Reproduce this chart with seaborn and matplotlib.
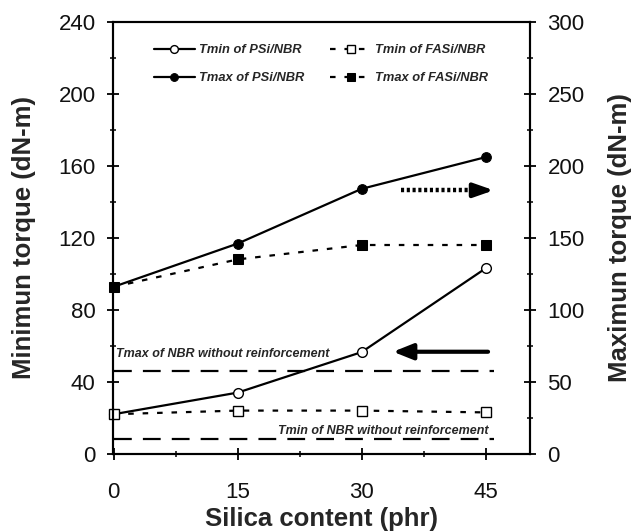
import matplotlib
matplotlib.use("Agg")
import matplotlib.pyplot as plt
import seaborn as sns
import pandas as pd
from matplotlib.ticker import MultipleLocator

sns.set_theme(style="white")
plt.rcParams['font.family'] = ['Liberation Sans', 'DejaVu Sans']

silica = [0, 15, 30, 45]
tmin_psi = [22, 34, 56.5, 103]
tmin_fasi = [22, 24, 24, 23]
tmax_psi = [116, 146, 184, 206]
tmax_fasi = [116, 135, 145, 145]
tmax_nbr = 57.5   # right axis
tmin_nbr = 8.2    # left axis

x_ticks = [0, 15, 30, 45]
left_ticks = [0, 40, 80, 120, 160, 200, 240]
right_ticks = [0, 50, 100, 150, 200, 250, 300]

df = pd.DataFrame({"silica": silica, "tmin_psi": tmin_psi, "tmin_fasi": tmin_fasi,
                   "tmax_psi": tmax_psi, "tmax_fasi": tmax_fasi})

fig = plt.figure(figsize=(6.38, 5.32), dpi=100)
ax = fig.add_axes([0.177, 0.147, 0.654, 0.812])
ax2 = ax.twinx()

lw = 1.6
sns.lineplot(data=df, x="silica", y="tmin_psi", ax=ax, color="black", lw=lw,
             marker="o", markersize=7, markerfacecolor="white", markeredgecolor="black",
             markeredgewidth=1.0, label="Tmin of PSi/NBR", clip_on=False, legend=False)
sns.lineplot(data=df, x="silica", y="tmin_fasi", ax=ax, color="black", lw=lw,
             marker="s", markersize=7, markerfacecolor="white", markeredgecolor="black",
             markeredgewidth=1.0, linestyle=(0, (2.5, 4)),
             label="Tmin of FASi/NBR", clip_on=False, legend=False)
sns.lineplot(data=df, x="silica", y="tmax_psi", ax=ax2, color="black", lw=lw,
             marker="o", markersize=7, markerfacecolor="black", markeredgecolor="black",
             label="Tmax of PSi/NBR", clip_on=False, legend=False)
sns.lineplot(data=df, x="silica", y="tmax_fasi", ax=ax2, color="black", lw=lw,
             marker="s", markersize=7, markerfacecolor="black", markeredgecolor="black",
             linestyle=(0, (2.5, 4)), label="Tmax of FASi/NBR", clip_on=False, legend=False)

# reference lines (NBR without reinforcement)
ax.plot([0, 46], [tmin_nbr, tmin_nbr], color="black", lw=1.6, dashes=(8, 5))
ax2.plot([0, 46], [tmax_nbr, tmax_nbr], color="black", lw=1.6, dashes=(8, 5))

ax.text(0.3, 52, "Tmax of NBR without reinforcement", fontsize=9,
        fontweight="bold", style="italic", ha="left", va="bottom")
ax.text(45.3, 9.6, "Tmin of NBR without reinforcement", fontsize=9,
        fontweight="bold", style="italic", ha="right", va="bottom")

# arrows
ax.annotate("", xy=(33.8, 56.7), xytext=(45.3, 56.7),
            arrowprops=dict(arrowstyle="-|>,head_length=1.0,head_width=0.4",
                            color="black", lw=3, shrinkA=0, shrinkB=0))
ax2.plot([34.8, 43.6], [183, 183], color="black", lw=3.2,
         linestyle=(0, (0.7, 0.6)), solid_capstyle="butt", dash_capstyle="butt")
ax2.annotate("", xy=(46, 183), xytext=(43.4, 183),
             arrowprops=dict(arrowstyle="-|>,head_length=1.0,head_width=0.35",
                             color="black", lw=3, shrinkA=0, shrinkB=0))

ax.set_xlim(-0.1, 50.4)
ax.set_ylim(0, 240)
ax2.set_ylim(0, 300)
ax.set_xticks(x_ticks)
ax.set_xticklabels([str(t) for t in x_ticks])
ax.set_yticks(left_ticks)
ax.set_yticklabels([str(t) for t in left_ticks])
ax2.set_yticks(right_ticks)
ax2.set_yticklabels([str(t) for t in right_ticks])
ax.xaxis.set_minor_locator(MultipleLocator(7.5))
ax.yaxis.set_minor_locator(MultipleLocator(20))
ax2.yaxis.set_minor_locator(MultipleLocator(25))

for a in (ax, ax2):
    a.tick_params(which="major", direction="inout", length=9, width=1.3,
                  labelsize=16, pad=8, color="black", labelcolor="#111111")
    a.tick_params(which="minor", direction="inout", length=5, width=1.1, color="black")
    for s in a.spines.values():
        s.set_linewidth(1.5)
        s.set_color("black")
ax.tick_params(axis="x", which="major", pad=16)
ax.tick_params(axis="y", which="both", left=True, right=False)
ax2.tick_params(axis="y", which="both", right=True, left=False)
ax.tick_params(axis="x", which="both", bottom=True, top=False)

ax.set_xlabel("Silica content (phr)", fontsize=18.5, fontweight="bold", labelpad=3)
ax.set_ylabel("Minimun torque (dN-m)", fontsize=18.5, fontweight="bold", labelpad=16)
ax2.set_ylabel("Maximun torque (dN-m)", fontsize=18.5, fontweight="bold", labelpad=17)

h1, l1 = ax.get_legend_handles_labels()
h2, l2 = ax2.get_legend_handles_labels()
d = dict(zip(l1 + l2, h1 + h2))
order = ["Tmin of PSi/NBR", "Tmax of PSi/NBR", "Tmin of FASi/NBR", "Tmax of FASi/NBR"]
leg = ax2.legend([d[k] for k in order], order, loc="upper left",
                 bbox_to_anchor=(0.07, 0.975), ncol=2, frameon=False,
                 prop=dict(size=9.3, weight="bold", style="italic"),
                 handlelength=3.2, handletextpad=0.3, columnspacing=2.0,
                 labelspacing=1.25, markerscale=0.8)

fig.savefig("out.png", dpi=100)
